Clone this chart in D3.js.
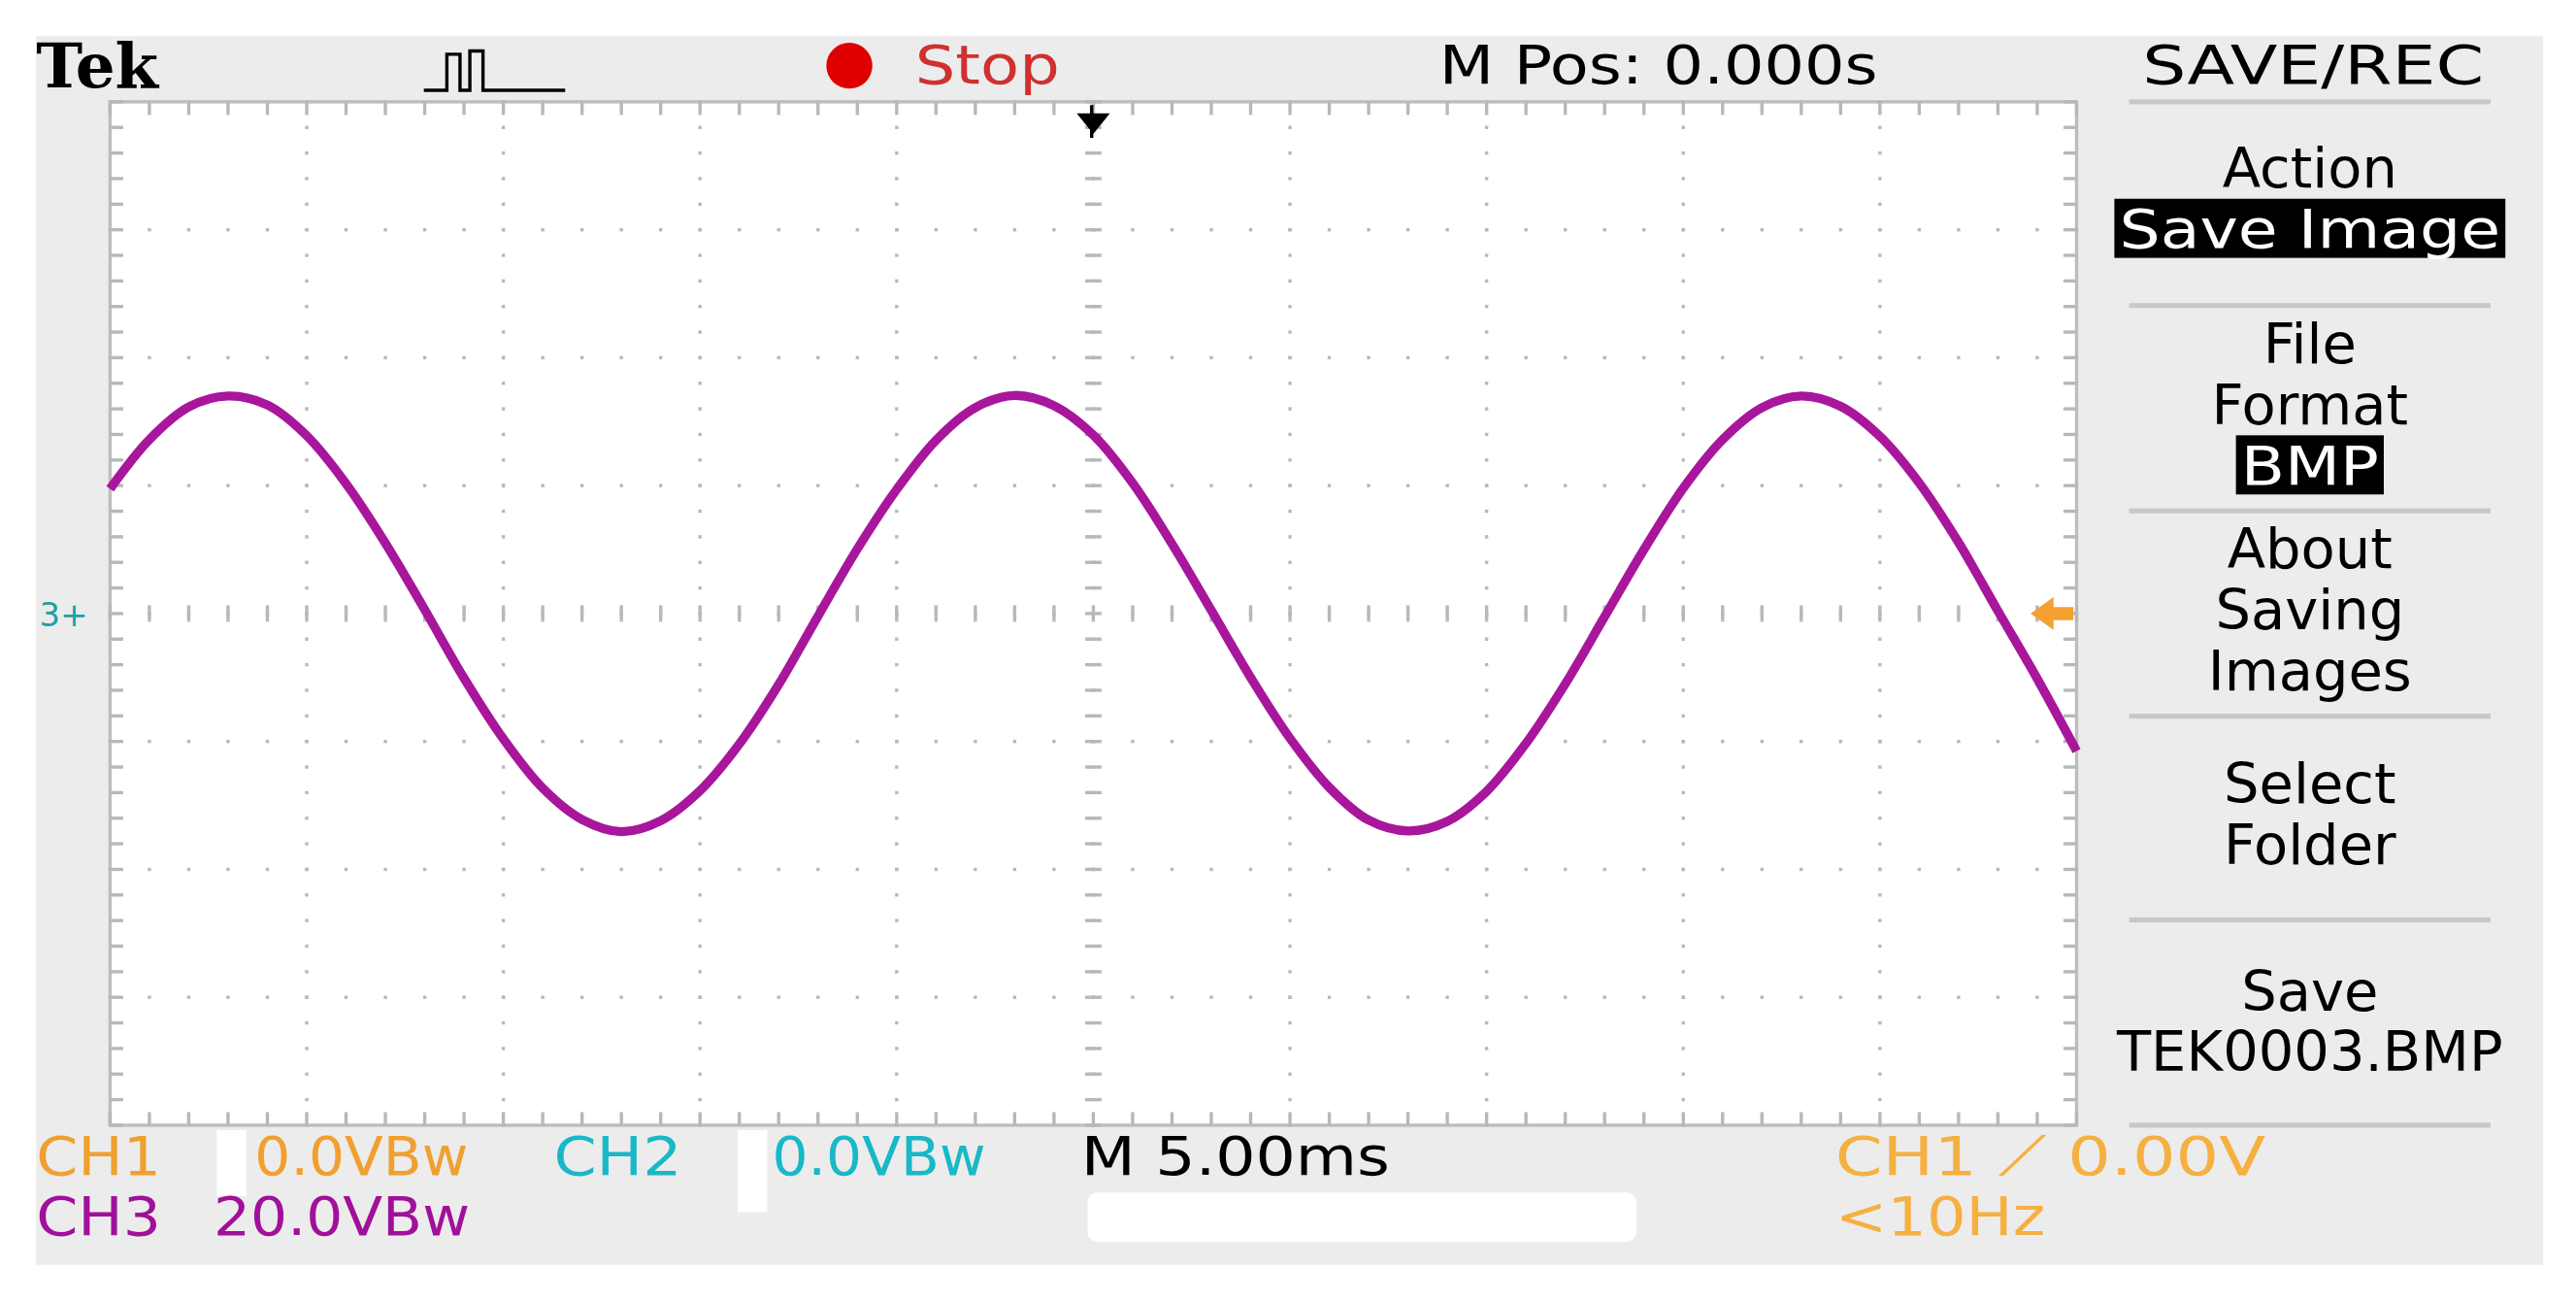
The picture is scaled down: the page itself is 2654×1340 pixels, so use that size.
<!DOCTYPE html>
<html><head><meta charset="utf-8">
<script src="https://cdn.jsdelivr.net/npm/d3@7"></script>
<style>body{margin:0;background:#fff}svg{display:block}</style>
</head><body><svg id="plot"></svg>
<script>
// global variables
const WIDTH = 2654, HEIGHT = 1340;
const VW = 1568, VH = 792;
const PLOT = { left: 67, right: 1264, top: 62, bottom: 685 };

const timesMs = d3.range(0, 51);
const ch3Volts = [19.5, 27.2, 32.3, 34.0, 32.6, 27.8, 20.3, 11.0, 0.6, -10.1,
  -19.6, -27.3, -32.2, -34.1, -32.4, -27.7, -20.4, -11.1, -0.4, 10.1,
  19.4, 27.1, 32.2, 34.1, 32.5, 27.9, 20.4, 10.9, 0.5, -10.0,
  -19.5, -27.2, -32.3, -34.0, -32.5, -27.8, -20.3, -11.0, -0.5, 10.0,
  19.6, 27.2, 32.2, 34.0, 32.4, 27.7, 20.4, 11.1, 0.4, -10.2, -21.5];
const xDivs = d3.range(0, 11);   // 5 ms/div
const yDivs = d3.range(-4, 5);   // 20 V/div
const menuItems = [
  { lines: ["Action"], boxed: "Save Image", y: 114 },
  { lines: ["File", "Format"], boxed: "BMP", y: 221 },
  { lines: ["About", "Saving", "Images"], y: 346 },
  { lines: ["Select", "Folder"], y: 489 },
  { lines: ["Save", "TEK0003.BMP"], y: 615 }
];
const menuSeps = [62, 186, 311, 436, 560, 685];

const x = d3.scaleLinear().domain([0, 50]).range([PLOT.left, PLOT.right]);
const y = d3.scaleLinear().domain([-80, 80]).range([PLOT.bottom, PLOT.top]);

const svg = d3.select("#plot").attr("width", WIDTH).attr("height", HEIGHT)
  .attr("viewBox", `0 0 ${VW} ${VH}`).attr("preserveAspectRatio", "none");
const FONT = "DejaVu Sans";

svg.append("rect").attr("x", 22).attr("y", 22).attr("width", 1526).attr("height", 748).attr("fill", "#ececec");
svg.append("rect").attr("x", PLOT.left).attr("y", PLOT.top)
  .attr("width", PLOT.right - PLOT.left).attr("height", PLOT.bottom - PLOT.top)
  .attr("fill", "#fff").attr("stroke", "#bdbdbd").attr("stroke-width", 2);

// dotted grid
const g = svg.append("g").attr("fill", "#b8b8b8");
xDivs.slice(1, -1).forEach(d => {
  d3.range(-80, 80.1, 4).forEach(v => g.append("rect").attr("x", x(d * 5) - 1).attr("y", y(v) - 1).attr("width", 2).attr("height", 2));
});
yDivs.slice(1, -1).forEach(d => {
  d3.range(0, 50.1, 1).forEach(t => g.append("rect").attr("x", x(t) - 1).attr("y", y(d * 20) - 1).attr("width", 2).attr("height", 2));
});
// border and centre ticks
d3.range(0, 50.1, 1).forEach(t => {
  [[PLOT.top, PLOT.top + 8], [PLOT.bottom - 8, PLOT.bottom], [y(0) - 5, y(0) + 5]].forEach(([a, b]) =>
    g.append("rect").attr("x", x(t) - 1).attr("y", a).attr("width", 2).attr("height", b - a));
});
d3.range(-80, 80.1, 4).forEach(v => {
  [[PLOT.left, PLOT.left + 8], [PLOT.right - 8, PLOT.right], [x(25) - 5, x(25) + 5]].forEach(([a, b]) =>
    g.append("rect").attr("x", a).attr("y", y(v) - 1).attr("width", b - a).attr("height", 2));
});

// trace
svg.append("path").datum(timesMs.map((t, i) => [t, ch3Volts[i]]))
  .attr("d", d3.line().x(d => x(d[0])).y(d => y(d[1])).curve(d3.curveCatmullRom))
  .attr("fill", "none").attr("stroke", "#a8169c").attr("stroke-width", 5.5);

// markers
svg.append("path").attr("d", `M${x(25) - 8},70 h16 l-8,10 z M${x(25) - 1},64 v20`).attr("fill", "#000").attr("stroke", "#000").attr("stroke-width", 2);
svg.append("text").attr("x", 24).attr("y", y(0) + 8).attr("font-family", FONT).attr("font-size", 20).attr("fill", "#20a0a0").text("3+");
svg.append("path").attr("d", `M1236,${y(0)} l14,-10 v6 h12 v8 h-12 v6 z`).attr("fill", "#f5a030");

// header
const txt = (t, xx, yy, col, size, len) => {
  const e = svg.append("text").attr("x", xx).attr("y", yy).attr("font-family", FONT)
    .attr("font-size", size || 33).attr("fill", col || "#000").text(t);
  if (len) e.attr("textLength", len).attr("lengthAdjust", "spacingAndGlyphs");
  return e;
};
txt("Tek", 22, 53, "#000", 38).attr("font-family", "DejaVu Serif").attr("font-weight", "bold");
svg.append("path").attr("d", "M258,55 h14 v-22 h8 v22 h6 v-24 h8 v24 h24 M296,55 h48").attr("fill", "none").attr("stroke", "#000").attr("stroke-width", 2);
svg.append("circle").attr("cx", 517).attr("cy", 40).attr("r", 14).attr("fill", "#e00000");
txt("Stop", 557, 51, "#d03030", 33, 88);
txt("M Pos: 0.000s", 876, 51, "#000", 33, 267);
txt("SAVE/REC", 1304, 51, "#000", 33, 208);

// menu
menuSeps.forEach(s => svg.append("rect").attr("x", 1296).attr("y", s - 1.5).attr("width", 220).attr("height", 3).attr("fill", "#c8c8c8"));
menuItems.forEach(m => {
  m.lines.forEach((l, i) => txt(l, 1406, m.y + i * 37, "#000", 34).attr("text-anchor", "middle"));
  if (m.boxed) {
    const by = m.y + m.lines.length * 37;
    const w = m.boxed.length > 3 ? 238 : 90;
    svg.append("rect").attr("x", 1406 - w / 2).attr("y", by - 30).attr("width", w).attr("height", 36).attr("fill", "#000");
    txt(m.boxed, 1406, by, "#fff", 33, w - 6).attr("text-anchor", "middle");
  }
});

// footer
txt("CH1", 22, 715, "#f0a030", 33, 76);
svg.append("rect").attr("x", 132).attr("y", 688).attr("width", 18).attr("height", 40).attr("fill", "#fff");
txt("0.0VBw", 155, 715, "#f0a030", 33, 130);
txt("CH2", 337, 715, "#18b8c8", 33, 78);
svg.append("rect").attr("x", 449).attr("y", 688).attr("width", 18).attr("height", 50).attr("fill", "#fff");
txt("0.0VBw", 470, 715, "#18b8c8", 33, 130);
txt("M 5.00ms", 658, 715, "#000", 33, 188);
txt("CH1 ⟋ 0.00V", 1117, 715, "#f5b040", 33, 262);
txt("CH3", 22, 752, "#a0109a", 33, 76);
txt("20.0VBw", 130, 752, "#a0109a", 33, 156);
svg.append("rect").attr("x", 662).attr("y", 726).attr("width", 334).attr("height", 30).attr("rx", 6).attr("fill", "#fff");
txt("<10Hz", 1117, 752, "#f5b040", 33, 128);
</script></body></html>
